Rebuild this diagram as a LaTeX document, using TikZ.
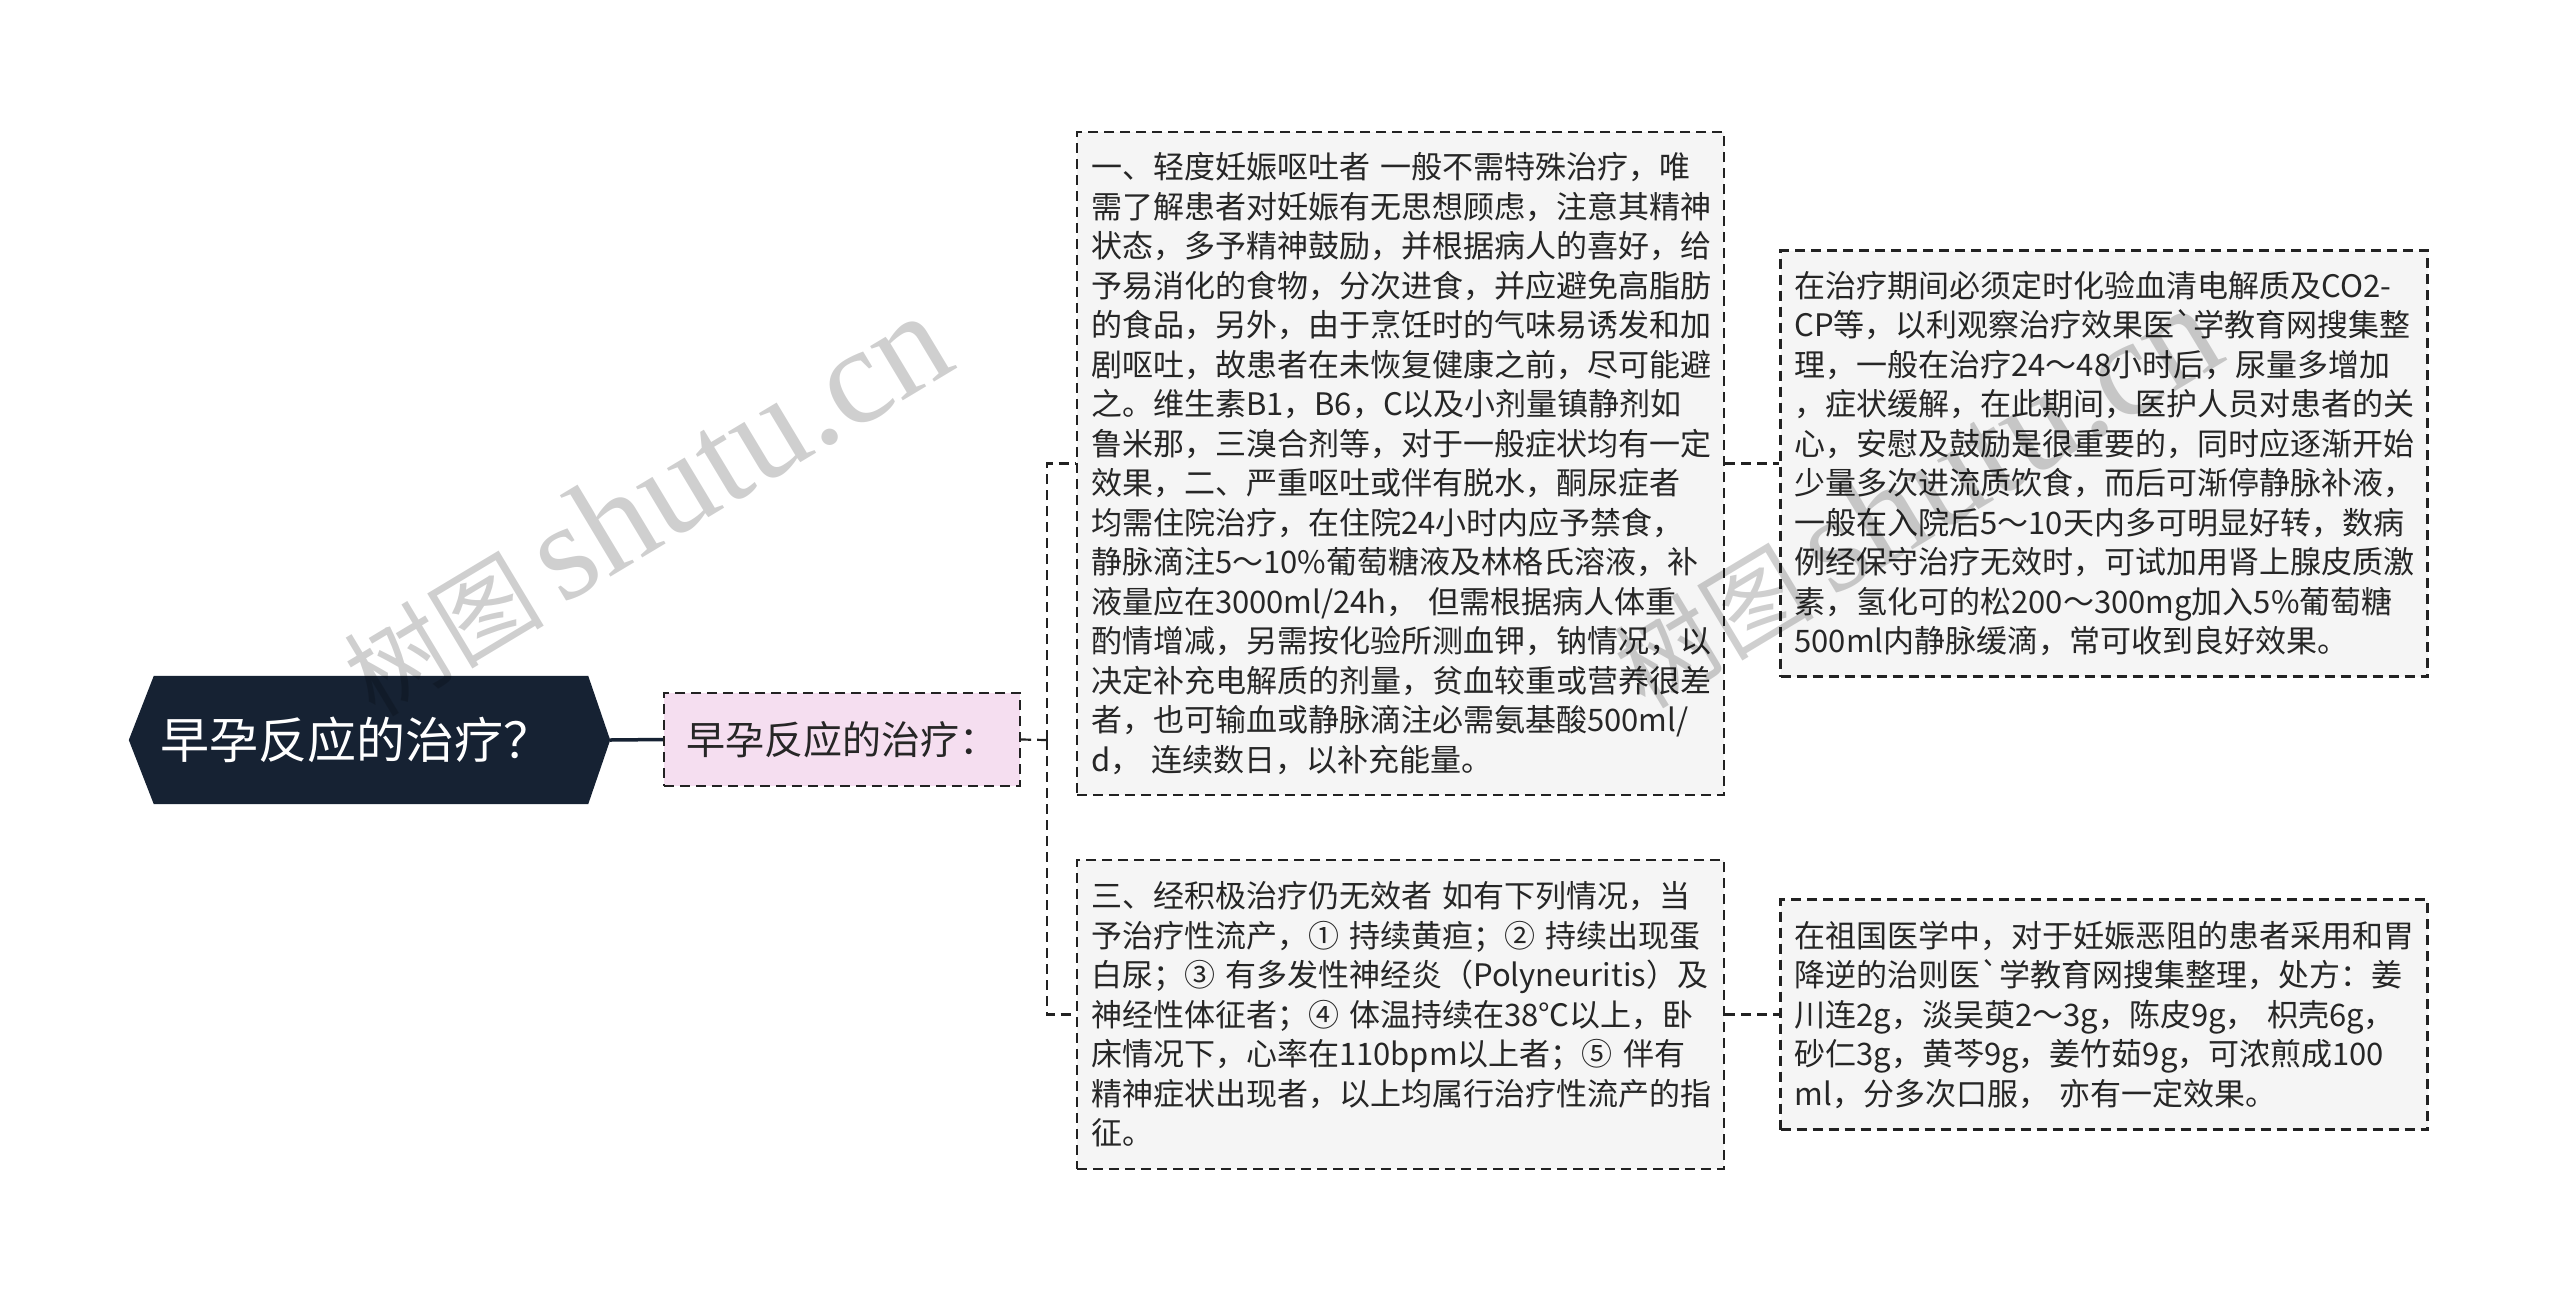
\documentclass[tikz,border=0pt]{standalone}
\usepackage{fontspec}
\newfontfamily\cjk{Noto Sans CJK SC}
\newfontfamily\wmserif{Liberation Serif}
\usetikzlibrary{backgrounds}
\definecolor{rootfill}{RGB}{22,34,51}
\definecolor{pinkfill}{RGB}{245,222,240}
\definecolor{boxfill}{RGB}{245,245,245}
\definecolor{linecol}{RGB}{34,34,34}
\definecolor{txtcol}{RGB}{38,38,38}
\tikzset{
  dashline/.style={draw=linecol, line width=2.2pt, dash pattern=on 10pt off 6pt},
  conn/.style={dashline},
  rootline/.style={draw=rootfill, line width=3.5pt},
  txtbox/.style={dashline, fill=boxfill, text=txtcol,
    font=\cjk\fontsize{31}{39.5}\selectfont, text width=619pt,
    inner xsep=14pt, inner ysep=0pt, align=left, anchor=center},
  subbox/.style={dashline, fill=pinkfill, text=txtcol,
    font=\cjk\fontsize{39}{46}\selectfont, minimum width=356pt,
    minimum height=93pt, inner sep=0pt, anchor=center},
  rootbox/.style={text=white, font=\cjk\fontsize{49}{56}\selectfont,
    minimum width=481pt, minimum height=128pt, inner sep=0pt, anchor=center},
  wm/.style={text=black, text opacity=0.19, inner sep=0pt, anchor=center}
}
\newcommand\wmtext{{\cjk\fontsize{100}{100}\selectfont 树图}\hspace{18pt}{\wmserif\fontsize{138}{138}\selectfont shutu.cn}}
\begin{document}
\begin{tikzpicture}[x=1pt,y=-1pt]
\useasboundingbox (0,0) rectangle (2560,1302);
\node[rootbox] (root) at (369.5,740) {\hspace*{-26pt}早孕反应的治疗？};
\begin{scope}[on background layer]
\fill[white] (0,0) rectangle (2560,1302);
\fill[rootfill] ([xshift=25pt]root.north west) -- ([xshift=-22pt]root.north east)
  -- (root.east) -- ([xshift=-22pt]root.south east)
  -- ([xshift=25pt]root.south west) -- (root.west) -- cycle;
\end{scope}
\node[subbox] (sub) at (842,739.5) {早孕反应的治疗：};
\node[txtbox, minimum height=663pt] (b1) at (1400.5,463.5) {一、轻度妊娠呕吐者 一般不需特殊治疗，唯\\
需了解患者对妊娠有无思想顾虑，注意其精神\\
状态，多予精神鼓励，并根据病人的喜好，给\\
予易消化的食物，分次进食，并应避免高脂肪\\
的食品，另外，由于烹饪时的气味易诱发和加\\
剧呕吐，故患者在未恢复健康之前，尽可能避\\
之。维生素B1，B6，C以及小剂量镇静剂如\\
鲁米那，三溴合剂等，对于一般症状均有一定\\
效果，二、严重呕吐或伴有脱水，酮尿症者\\
均需住院治疗，在住院24小时内应予禁食，\\
静脉滴注5～10\%葡萄糖液及林格氏溶液，补\\
液量应在3000ml/24h， 但需根据病人体重\\
酌情增减，另需按化验所测血钾，钠情况，以\\
决定补充电解质的剂量，贫血较重或营养很差\\
者，也可输血或静脉滴注必需氨基酸500ml/\\
d， 连续数日，以补充能量。};
\node[txtbox, minimum height=309pt] (b2) at (1400.5,1014.5) {三、经积极治疗仍无效者 如有下列情况，当\\
予治疗性流产，① 持续黄疸；② 持续出现蛋\\
白尿；③ 有多发性神经炎（Polyneuritis）及\\
神经性体征者；④ 体温持续在38℃以上，卧\\
床情况下，心率在110bpm以上者；⑤ 伴有\\
精神症状出现者，以上均属行治疗性流产的指\\
征。};
\node[txtbox, minimum height=426pt] (b3) at (2104,463.5) {在治疗期间必须定时化验血清电解质及CO2-\\
CP等，以利观察治疗效果医`学教育网搜集整\\
理，一般在治疗24～48小时后，尿量多增加\\
，症状缓解，在此期间，医护人员对患者的关\\
心，安慰及鼓励是很重要的，同时应逐渐开始\\
少量多次进流质饮食，而后可渐停静脉补液，\\
一般在入院后5～10天内多可明显好转，数病\\
例经保守治疗无效时，可试加用肾上腺皮质激\\
素，氢化可的松200～300mg加入5\%葡萄糖\\
500ml内静脉缓滴，常可收到良好效果。};
\node[txtbox, minimum height=230pt] (b4) at (2104,1014.5) {在祖国医学中，对于妊娠恶阻的患者采用和胃\\
降逆的治则医`学教育网搜集整理，处方：姜\\
川连2g，淡吴萸2～3g，陈皮9g， 枳壳6g，\\
砂仁3g，黄芩9g，姜竹茹9g，可浓煎成100\\
ml，分多次口服， 亦有一定效果。};
\coordinate (spine) at (1047,740);
\draw[rootline] (root.east) -- (sub.west);
\draw[conn] (sub.east) -- (spine);
\draw[conn] (spine) |- (b1.west);
\draw[conn] (spine) |- (b2.west);
\draw[conn] (b1.east) -- (b3.west);
\draw[conn] (b2.east) -- (b4.west);
\node[wm, rotate=31] (wm1) at (645,505) {\wmtext};
\node[wm, rotate=31] (wm2) at (1915,497) {\wmtext};
\end{tikzpicture}
\end{document}
